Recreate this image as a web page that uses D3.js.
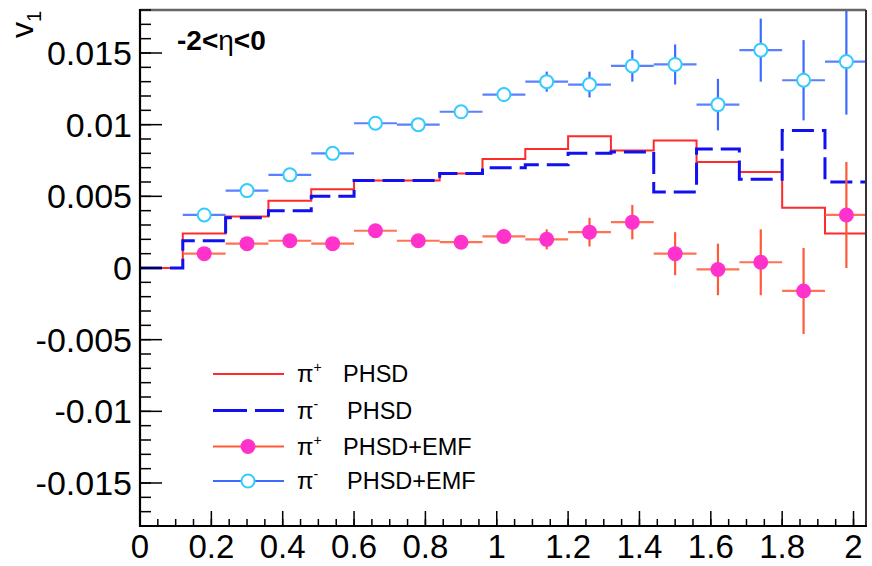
<!DOCTYPE html>
<html>
<head>
<meta charset="utf-8">
<script src="https://cdn.jsdelivr.net/npm/d3@7"></script>
<style>
  html, body { margin: 0; padding: 0; background: #fff; }
  svg { display: block; }
  text { font-family: "Liberation Sans", Arial, Helvetica, sans-serif; }
</style>
</head>
<body>
<svg id="chart" width="872" height="566"></svg>
<script>
// pT bin edges (GeV/c) of the PHSD histograms
const binEdges = [0, 0.12, 0.24, 0.36, 0.48, 0.60, 0.72, 0.84, 0.96, 1.08, 1.20, 1.32, 1.44, 1.56, 1.68, 1.80, 1.92, 2.04];
// v1 per bin, PHSD without fields
const piPlusPHSD  = [0, 0.0024, 0.0036, 0.0047, 0.0055, 0.0061, 0.0061, 0.0066, 0.0076, 0.0083, 0.0092, 0.0082, 0.0089, 0.0074, 0.0067, 0.0042, 0.0024];
const piMinusPHSD = [0, 0.0019, 0.0035, 0.0040, 0.0050, 0.0061, 0.0061, 0.0066, 0.0070, 0.0072, 0.0080, 0.0081, 0.0053, 0.0083, 0.0062, 0.0096, 0.0060];

// PHSD+EMF points: bin centres, values and statistical errors
const emfPt = [0.18, 0.30, 0.42, 0.54, 0.66, 0.78, 0.90, 1.02, 1.14, 1.26, 1.38, 1.50, 1.62, 1.74, 1.86, 1.98];
const emfHalfWidth = 0.06;
const piPlusEMF     = [0.0010, 0.0017, 0.0019, 0.0017, 0.0026, 0.0019, 0.0018, 0.0022, 0.0020, 0.0025, 0.0032, 0.0010, -0.0001, 0.0004, -0.0016, 0.0037];
const piPlusEMFerr  = [0.0003, 0.0003, 0.0003, 0.0003, 0.0004, 0.0004, 0.0004, 0.0005, 0.0007, 0.0010, 0.0012, 0.0015, 0.0018, 0.0023, 0.0030, 0.0037];
const piMinusEMF    = [0.0037, 0.0054, 0.0065, 0.0080, 0.0101, 0.0100, 0.0109, 0.0121, 0.0130, 0.0128, 0.0141, 0.0142, 0.0114, 0.0152, 0.0131, 0.0144];
const piMinusEMFerr = [0.0003, 0.0003, 0.0003, 0.0003, 0.0004, 0.0004, 0.0004, 0.0005, 0.0007, 0.0009, 0.0011, 0.0014, 0.0018, 0.0022, 0.0028, 0.0037];

// axis ticks
const xTicks = [0, 0.2, 0.4, 0.6, 0.8, 1, 1.2, 1.4, 1.6, 1.8, 2];
const yTicks = [-0.015, -0.01, -0.005, 0, 0.005, 0.01, 0.015];
const xDomain = [0, 2.035];
const yDomain = [-0.018, 0.018];

const colRed = "#ff2a2a", colBlue = "#1010f0";
const colOrange = "#ff5a38", colMagenta = "#ff33cc";
const colLightBlue = "#3d6bff", colCyan = "#33ccff";

const plot = { left: 140, right: 866, top: 10, bottom: 526 };
const svg = d3.select("#chart");
svg.append("rect").attr("width", 872).attr("height", 566).attr("fill", "#fff");

const x = d3.scaleLinear().domain(xDomain).range([plot.left, plot.right]);
const y = d3.scaleLinear().domain(yDomain).range([plot.bottom, plot.top]);

svg.append("clipPath").attr("id", "clip").append("rect")
  .attr("x", plot.left).attr("y", plot.top)
  .attr("width", plot.right - plot.left).attr("height", plot.bottom - plot.top);

const g = svg.append("g").attr("clip-path", "url(#clip)");

// step histograms
function histPoints(vals) {
  const pts = vals.map((v, i) => [binEdges[i], v]);
  pts.push([binEdges[binEdges.length - 1], vals[vals.length - 1]]);
  return pts;
}
const stepLine = d3.line().x(d => x(d[0])).y(d => y(d[1])).curve(d3.curveStepAfter);

g.append("path").datum(histPoints(piPlusPHSD))
  .attr("d", stepLine).attr("fill", "none")
  .attr("stroke", colRed).attr("stroke-width", 2);
g.append("path").datum(histPoints(piMinusPHSD))
  .attr("d", stepLine).attr("fill", "none")
  .attr("stroke", colBlue).attr("stroke-width", 3).attr("stroke-dasharray", "22,8");

// points with error bars
function drawPoints(vals, errs, barColor, fill, stroke, r) {
  const pts = vals.map((v, i) => ({ x: emfPt[i], y: v, e: errs[i] }));
  const grp = g.append("g");
  grp.selectAll("line.h").data(pts).join("line")
    .attr("x1", d => x(d.x - emfHalfWidth)).attr("x2", d => x(d.x + emfHalfWidth))
    .attr("y1", d => y(d.y)).attr("y2", d => y(d.y))
    .attr("stroke", barColor).attr("stroke-width", 2.2).attr("opacity", 0.85);
  grp.selectAll("line.v").data(pts).join("line")
    .attr("x1", d => x(d.x)).attr("x2", d => x(d.x))
    .attr("y1", d => y(d.y - d.e)).attr("y2", d => y(d.y + d.e))
    .attr("stroke", barColor).attr("stroke-width", 2.2);
  grp.selectAll("circle").data(pts).join("circle")
    .attr("cx", d => x(d.x)).attr("cy", d => y(d.y)).attr("r", r)
    .attr("fill", fill).attr("stroke", stroke).attr("stroke-width", stroke === "none" ? 0 : 2);
}
drawPoints(piPlusEMF, piPlusEMFerr, colOrange, colMagenta, "none", 7.5);
drawPoints(piMinusEMF, piMinusEMFerr, colLightBlue, "#fff", colCyan, 6.5);

// frame
svg.append("line").attr("x1", plot.left).attr("x2", plot.right).attr("y1", plot.top).attr("y2", plot.top)
  .attr("stroke", "#666").attr("stroke-width", 2.5);
svg.append("line").attr("x1", plot.right).attr("x2", plot.right).attr("y1", plot.top).attr("y2", plot.bottom)
  .attr("stroke", "#333").attr("stroke-width", 2);

// x axis
const xAxisG = svg.append("g");
const xMinor = d3.range(0, 41).map(i => i * 0.05).filter(v => v <= xDomain[1]);
xAxisG.selectAll("line.minor").data(xMinor).join("line")
  .attr("x1", d => x(d)).attr("x2", d => x(d))
  .attr("y1", plot.bottom).attr("y2", plot.bottom - 7)
  .attr("stroke", "#000").attr("stroke-width", 1.5);
xAxisG.selectAll("line.major").data(xTicks).join("line")
  .attr("x1", d => x(d)).attr("x2", d => x(d))
  .attr("y1", plot.bottom).attr("y2", plot.bottom - 15)
  .attr("stroke", "#000").attr("stroke-width", 1.5);
xAxisG.selectAll("text").data(xTicks).join("text")
  .attr("x", d => x(d)).attr("y", 558)
  .attr("text-anchor", "middle").attr("font-size", 33).attr("fill", "#000")
  .text(d => d3.format("")(d));
svg.append("line").attr("x1", plot.left - 1).attr("x2", plot.right + 1).attr("y1", plot.bottom).attr("y2", plot.bottom)
  .attr("stroke", "#000").attr("stroke-width", 2.2);

// y axis
const yAxisG = svg.append("g");
const yMinor = d3.range(-18, 19).map(i => i * 0.001);
yAxisG.selectAll("line.minor").data(yMinor).join("line")
  .attr("x1", plot.left).attr("x2", plot.left + 11)
  .attr("y1", d => y(d)).attr("y2", d => y(d))
  .attr("stroke", "#000").attr("stroke-width", 1.5);
yAxisG.selectAll("line.major").data(yTicks).join("line")
  .attr("x1", plot.left).attr("x2", plot.left + 22)
  .attr("y1", d => y(d)).attr("y2", d => y(d))
  .attr("stroke", "#000").attr("stroke-width", 1.5);
yAxisG.selectAll("text").data(yTicks).join("text")
  .attr("x", 132).attr("y", d => y(d) + 12)
  .attr("text-anchor", "end").attr("font-size", 34).attr("fill", "#000")
  .text(d => d === 0 ? "0" : d3.format("")(d).replace("\u2212", "-"));
svg.append("line").attr("x1", plot.left).attr("x2", plot.left).attr("y1", plot.top - 1).attr("y2", plot.bottom + 1)
  .attr("stroke", "#000").attr("stroke-width", 2.2);

// y title v_1
const yTitle = svg.append("text")
  .attr("transform", "translate(33,38) rotate(-90)")
  .attr("font-size", 32).attr("fill", "#000");
yTitle.append("tspan").text("v");
yTitle.append("tspan").attr("font-size", 20).attr("dy", 8).text("1");

// rapidity window label
const etaLabel = svg.append("text").attr("x", 177).attr("y", 50)
  .attr("font-size", 28).attr("font-weight", "bold").attr("fill", "#000");
etaLabel.append("tspan").text("-2<");
etaLabel.append("tspan").attr("font-weight", "normal").text("η");
etaLabel.append("tspan").text("<0");

// legend
const legendRows = [
  { sign: "+", label: "PHSD", y: 374, textX: 343, type: "solid" },
  { sign: "-", label: "PHSD", y: 410.5, textX: 347, type: "dashed" },
  { sign: "+", label: "PHSD+EMF", y: 446.5, textX: 343, type: "filled" },
  { sign: "-", label: "PHSD+EMF", y: 481, textX: 347, type: "open" }
];
const leg = svg.append("g");
legendRows.forEach(row => {
  const lx1 = 213, lx2 = 284, mx = 248;
  if (row.type === "solid") {
    leg.append("line").attr("x1", lx1).attr("x2", lx2).attr("y1", row.y).attr("y2", row.y)
      .attr("stroke", colRed).attr("stroke-width", 2);
  } else if (row.type === "dashed") {
    leg.append("line").attr("x1", lx1).attr("x2", lx2).attr("y1", row.y).attr("y2", row.y)
      .attr("stroke", colBlue).attr("stroke-width", 3).attr("stroke-dasharray", "34,8");
  } else if (row.type === "filled") {
    leg.append("line").attr("x1", lx1).attr("x2", lx2).attr("y1", row.y).attr("y2", row.y)
      .attr("stroke", colOrange).attr("stroke-width", 2.2);
    leg.append("circle").attr("cx", mx).attr("cy", row.y).attr("r", 7.5).attr("fill", colMagenta);
  } else {
    leg.append("line").attr("x1", lx1).attr("x2", lx2).attr("y1", row.y).attr("y2", row.y)
      .attr("stroke", colLightBlue).attr("stroke-width", 2.2);
    leg.append("circle").attr("cx", mx).attr("cy", row.y).attr("r", 6.5)
      .attr("fill", "#fff").attr("stroke", colCyan).attr("stroke-width", 2);
  }
  const t = leg.append("text").attr("x", 297).attr("y", row.y + 8)
    .attr("font-size", 24).attr("fill", "#000");
  t.append("tspan").text("π");
  t.append("tspan").attr("font-size", 14).attr("dy", -10).text(row.sign);
  leg.append("text").attr("x", row.textX).attr("y", row.y + 8)
    .attr("font-size", 23.5).attr("fill", "#000").text(row.label);
});
</script>
</body>
</html>
